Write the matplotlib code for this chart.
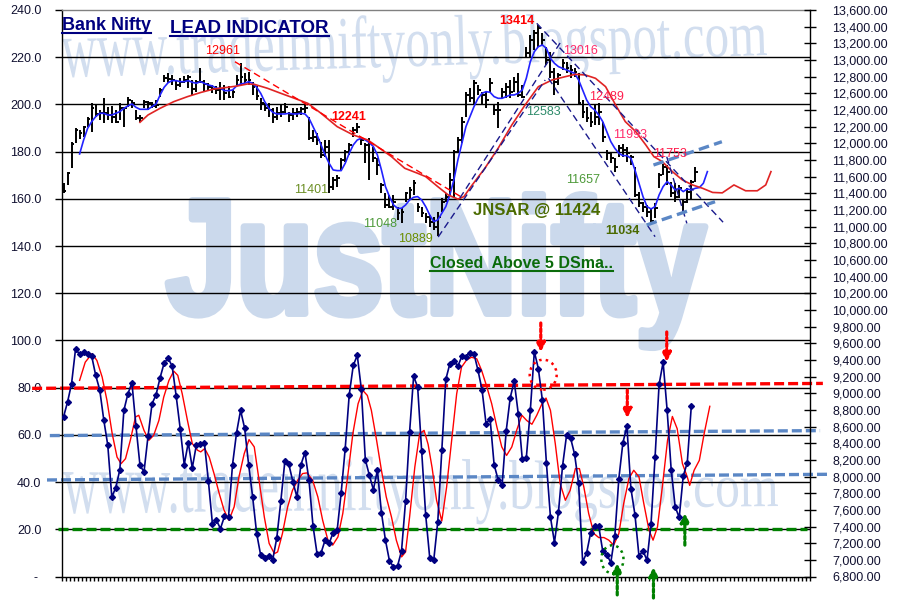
import numpy as np
import matplotlib
matplotlib.use('Agg')
import matplotlib.pyplot as plt
from matplotlib.textpath import TextPath
from matplotlib.font_manager import FontProperties
from matplotlib.patches import PathPatch, Ellipse
from matplotlib.path import Path
from matplotlib.transforms import IdentityTransform
from matplotlib.lines import Line2D

plt.rcParams['font.family'] = ['Liberation Sans', 'DejaVu Sans']

W, H = 898, 611
N_SLOTS = 186

# ---- oscillator (left axis) ----
osc = [67.6, 73.9, 81.7, 96.5, 94.1, 95.1, 94.1, 93.4, 85.2, 79.1,
       66.4, 55.6, 33.7, 37.7, 45.3, 70.4, 77.4, 82.1, 63.8, 47.1,
       44.3, 59.4, 73.2, 77.0, 84.2, 90.4, 92.5, 89.1, 76.4, 62.6,
       47.4, 56.7, 46.0, 55.6, 56.0, 56.6, 40.5, 22.4, 23.8, 20.3,
       25.5, 25.2, 47.4, 60.9, 70.4, 62.9, 47.4, 33.7, 18.2, 9.0,
       8.0, 8.7, 7.2, 16.4, 31.9, 48.8, 47.5, 40.1, 33.7, 47.4,
       52.5, 40.8, 21.4, 9.7, 10.0, 15.4, 14.0, 18.6, 19.6, 35.5,
       54.2, 77.0, 89.4, 93.7, 79.5, 49.5, 42.9, 36.8, 45.0, 27.1,
       15.4, 6.6, 4.1, 4.4, 10.9, 32.0, 61.2, 84.8, 80.3, 53.0,
       26.0, 8.0, 6.9, 23.1, 53.5, 83.5, 90.1, 91.5, 89.1, 93.4,
       93.2, 94.8, 94.4, 87.3, 79.1, 64.7, 66.9, 47.4, 41.0, 38.9,
       61.6, 75.7, 82.7, 69.0, 49.8, 50.2, 70.4, 95.3, 88.0, 74.6,
       48.1, 25.2, 14.4, 27.4, 46.7, 59.8, 58.7, 51.8, 39.4, 6.2,
       10.0, 18.6, 21.4, 21.3, 10.7, 9.3, 5.9, 17.2, 41.5, 56.6,
       63.6, 37.2, 26.2, 8.7, 10.9, 6.9, 22.4, 50.6, 81.4, 90.8,
       70.4, 45.3, 29.5, 25.0, 42.6, 48.2, 72.1]

osc_avg_x = [4, 5.4, 7.1, 8.3, 9.6, 10.8, 12.1, 13.3, 14.3, 15.4,
             16.6, 17.9, 18.7, 20, 21.2, 22.4, 23.7, 24.9, 26.2, 27.4,
             28.4, 29.5, 30.8, 32, 33.3, 34.1, 35.1, 36.2, 37.4, 38.7,
             39.9, 41.1, 42.4, 43.6, 44.9, 46.1, 47.4, 48.6, 49.9, 51.1,
             52.4, 53.2, 54.4, 55.7, 56.9, 58.2, 59.4, 60.5, 61.9, 63.2,
             64.4, 65.7, 66.9, 68.2, 69.4, 70.7, 71.9, 73.2, 74.4, 75.5,
             76.5, 77.8, 79, 80.2, 81.5, 82.7, 84, 85, 86, 87.3,
             88.5, 89.6, 90.6, 91.6, 92.7, 94, 95.2, 96.4, 97.7, 98.9,
             100.2, 101.4, 102.7, 103.9, 105.2, 106.4, 107.7, 108.9, 110.1, 111.4,
             112.6, 113.9, 115.1, 116.4, 117.6, 118.9, 119.9, 121, 122.2, 123.4,
             124.7, 125.9, 127.2, 128.2, 129.3, 130.5, 131.8, 133, 134.3, 135.5,
             136.7, 138, 139.2, 140.5, 141.7, 143, 144.2, 145.5, 146.5, 147.6,
             148.8, 150.1, 151.3, 152.5, 153.8, 155, 155.6, 156.7, 158, 159.2,
             160.6]
osc_avg_y = [83.1, 90.8, 94.4, 91.5, 84.5, 74.6, 60.5, 50.6, 47.8, 49.9,
             57.7, 67.6, 68.3, 61.9, 57.7, 59.8, 66.1, 76.0, 83.1, 87.0,
             85.2, 77.4, 66.1, 56.3, 53.5, 52.8, 54.2, 50.6, 43.6, 35.1,
             28.1, 23.8, 29.5, 42.2, 52.0, 58.0, 54.9, 40.8, 25.2, 14.0,
             9.7, 10.4, 18.2, 29.5, 36.5, 40.8, 43.6, 43.9, 40.8, 33.7,
             23.8, 15.4, 13.3, 16.8, 26.7, 43.6, 60.5, 73.2, 78.8, 76.7,
             70.4, 57.7, 45.0, 33.7, 25.2, 15.4, 8.3, 10.4, 25.2, 46.4,
             60.5, 61.9, 56.0, 46.0, 32.3, 23.5, 37.9, 57.0, 77.4, 88.7,
             91.8, 92.9, 92.2, 87.3, 80.3, 73.2, 63.3, 54.9, 51.3, 54.9,
             61.9, 68.3, 66.1, 64.5, 68.3, 73.2, 75.6, 70.4, 56.3, 39.4,
             32.3, 36.5, 45.7, 45.7, 37.9, 26.7, 18.2, 16.5, 16.5, 15.4,
             13.3, 18.2, 30.9, 41.5, 45.0, 42.2, 30.9, 19.6, 15.4, 21.0,
             37.9, 57.7, 67.8, 62.6, 47.8, 42.2, 38.6, 45.0, 49.2, 60.5,
             72.1]

# ---- Bank Nifty daily bars (right axis) ----
bar_high = [11528, 11660, 12020, 12180, 12160, 12208, 12320, 12480, 12460, 12400,
            12540, 12440, 12448, 12400, 12480, 12440, 12560, 12520, 12400, 12340,
            12520, 12508, 12500, 12520, 12660, 12820, 12840, 12820, 12760, 12780,
            12808, 12820, 12760, 12760, 12900, 12760, 12720, 12700, 12688, 12740,
            12700, 12688, 12640, 12820, 12961, 12840, 12860, 12740, 12688, 12540,
            12488, 12480, 12420, 12440, 12460, 12480, 12380, 12420, 12420, 12440,
            12480, 12320, 12160, 12120, 12020, 12040, 12040, 11600, 11620, 11820,
            11920, 12000, 12200, 12241, 12080, 12000, 12060, 11960, 11820, 11520,
            11400, 11380, 11380, 11240, 11220, 11420, 11480, 11560, 11280, 11240,
            11160, 11140, 11120, 11180, 11340, 11400, 11640, 11920, 12080, 12320,
            12620, 12660, 12760, 12700, 12620, 12620, 12780, 12460, 12500, 12660,
            12720, 12760, 12800, 12840, 12700, 13160, 13300, 13360, 13414, 13320,
            13160, 13100, 12900, 12840, 13016, 12980, 12940, 12900, 12840, 12520,
            12440, 12380, 12470, 12489, 12260, 11920, 11880, 11820, 11980, 11993,
            11960, 11860, 11720, 11420, 11300, 11260, 11220, 11280, 11640, 11753,
            11740, 11540, 11520, 11500, 11320, 11460, 11560, 11720]
bar_low = [11408, 11500, 11700, 12008, 12048, 12072, 12200, 12140, 12320, 12280,
           12240, 12280, 12248, 12240, 12280, 12200, 12440, 12420, 12280, 12260,
           12420, 12400, 12420, 12420, 12560, 12740, 12720, 12700, 12640, 12680,
           12720, 12660, 12580, 12620, 12720, 12620, 12640, 12600, 12588, 12520,
           12520, 12540, 12540, 12700, 12700, 12720, 12700, 12580, 12520, 12400,
           12388, 12320, 12240, 12280, 12320, 12360, 12260, 12280, 12320, 12340,
           12360, 12040, 12020, 11980, 11820, 11840, 11401, 11440, 11480, 11680,
           11780, 11860, 12080, 12120, 11980, 11760, 11560, 11780, 11620, 11400,
           11220, 11220, 11200, 11080, 11048, 11300, 11320, 11380, 11180, 11120,
           11040, 11000, 10960, 10889, 11180, 11300, 11380, 11340, 11900, 12000,
           12320, 12500, 12460, 12580, 12460, 12420, 12620, 12340, 12180, 12540,
           12540, 12540, 12620, 12560, 12540, 13020, 13040, 13120, 13160, 13180,
           12940, 12780, 12583, 12700, 12880, 12840, 12780, 12800, 12460, 12300,
           12260, 12200, 12220, 12220, 12020, 11800, 11760, 11657, 11840, 11840,
           11780, 11740, 11360, 11240, 11180, 11120, 11034, 11100, 11460, 11620,
           11500, 11360, 11300, 11340, 11160, 11280, 11320, 11540]
bar_close = [11432, 11648, 11992, 12160, 12128, 12192, 12292, 12420, 12352, 12360,
             12360, 12340, 12320, 12260, 12420, 12428, 12520, 12480, 12300, 12300,
             12500, 12480, 12448, 12460, 12640, 12780, 12768, 12760, 12700, 12740,
             12760, 12792, 12648, 12740, 12740, 12712, 12672, 12648, 12640, 12648,
             12600, 12560, 12620, 12760, 12800, 12760, 12760, 12672, 12568, 12480,
             12420, 12400, 12320, 12360, 12380, 12440, 12340, 12360, 12380, 12408,
             12420, 12060, 12080, 12040, 11860, 11960, 11480, 11560, 11580, 11800,
             11900, 11980, 12160, 12200, 12040, 11980, 12000, 11820, 11740, 11500,
             11260, 11240, 11300, 11160, 11180, 11400, 11440, 11520, 11240, 11160,
             11120, 11060, 11000, 11120, 11300, 11360, 11560, 11900, 12040, 12260,
             12580, 12540, 12720, 12640, 12580, 12520, 12720, 12400, 12400, 12620,
             12680, 12620, 12740, 12580, 12560, 13080, 13240, 13320, 13380, 13240,
             13000, 12860, 12740, 12820, 12960, 12900, 12880, 12860, 12480, 12380,
             12300, 12260, 12320, 12380, 12080, 11880, 11820, 11720, 11940, 11920,
             11880, 11840, 11380, 11280, 11240, 11180, 11068, 11220, 11620, 11720,
             11660, 11400, 11360, 11460, 11300, 11420, 11540, 11660]

# 5 day sma, first value at slot 4
sma5_start = 4
sma5 = [11872, 12040, 12180, 12260, 12320, 12360, 12360, 12340, 12340, 12360,
        12380, 12420, 12448, 12472, 12432, 12408, 12408, 12408, 12440, 12472,
        12580, 12672, 12728, 12752, 12752, 12740, 12740, 12752, 12732, 12720,
        12740, 12720, 12700, 12688, 12660, 12660, 12632, 12632, 12640, 12688,
        12712, 12720, 12740, 12720, 12672, 12600, 12500, 12420, 12372, 12352,
        12352, 12352, 12360, 12352, 12352, 12360, 12352, 12300, 12200, 12100,
        11980, 11860, 11760, 11680, 11672, 11672, 11760, 11880, 11980, 12040,
        12060, 12040, 12008, 11960, 11860, 11680, 11480, 11360, 11260, 11220,
        11220, 11260, 11320, 11352, 11360, 11320, 11240, 11140, 11060, 11080,
        11160, 11240, 11380, 11560, 11800, 12000, 12200, 12320, 12440, 12540,
        12600, 12620, 12612, 12560, 12540, 12540, 12560, 12580, 12580, 12600,
        12640, 12780, 12980, 13100, 13160, 13180, 13140, 13020, 12960, 12920,
        12900, 12880, 12860, 12840, 12760, 12640, 12520, 12440, 12400, 12340,
        12260, 12140, 12020, 11940, 11880, 11852, 11852, 11820, 11680, 11520,
        11360, 11240, 11212, 11240, 11380, 11480, 11540, 11500, 11440, 11460,
        11420, 11452, 11440, 11460, 11468, 11520, 11660]

# slow average (red)
slow_x = [19, 21, 24, 27.4, 30.8, 34.1, 37.4, 40.8, 43.2, 45.7,
          47.4, 50.7, 54, 57.4, 60.7, 64, 68, 72, 75.6, 78,
          81.5, 84.8, 88, 90, 93, 95.6, 98, 99.5, 101.4, 104.7,
          108, 111.4, 114.7, 118, 121.4, 124.7, 127.2, 129.7, 132.2, 134.7,
          137.2, 139.6, 142.2, 144.7, 146.7, 148.8, 151.3, 153.8, 156.3, 158.8,
          161.3, 163.7, 166.6, 169.5, 172.4, 174.5, 175.8]
slow_y = [12252, 12340, 12420, 12500, 12560, 12610, 12652, 12672, 12688, 12712,
          12708, 12660, 12600, 12540, 12480, 12360, 12200, 12100, 12040, 11960,
          11840, 11700, 11640, 11600, 11480, 11380, 11330, 11360, 11490, 11700,
          11940, 12220, 12460, 12680, 12760, 12800, 12828, 12820, 12780, 12680,
          12460, 12260, 12140, 11980, 11840, 11780, 11660, 11560, 11500, 11460,
          11410, 11405, 11500, 11430, 11430, 11500, 11660]

price_ticks = list(range(6800, 13601, 200))
osc_ticks = list(range(0, 241, 20))

# hand drawn trend lines on the price panel: (slot, price) pairs
trend_red = [(42.6, 12979), (99.4, 11340)]
trend_navy = [[(93.1, 10875), (119.7, 12760)],
              [(98.5, 11343), (123.4, 13204)],
              [(117.6, 13440), (163.9, 11053)],
              [(120.5, 12780), (147.0, 10879)],
              [(149.9, 11839), (154.9, 11039)]]
trend_steel = [[(146.6, 11739), (163.6, 12019)],
               [(144.9, 11019), (161.9, 11299)]]

# level lines on the oscillator panel
levels = [([-7.8, 188.7], [79.7, 81.8], '#ff0000'),
          ([-3.4, 188.0], [59.7, 61.8], '#5b87c5'),
          ([-4.1, 190.0], [40.9, 43.3], '#5b87c5'),
          ([-1.4, 184.8], [20.1, 20.1], '#008000')]

# signal arrows (slot, tail value, head value)
down_arrows = [(118.6, 107.4, 95.1), (140.1, 79.0, 67.1), (149.9, 103.6, 90.9)]
up_arrows = [(137.6, -7.8, 5.7), (146.6, -9.1, 4.0), (154.4, 13.3, 26.9)]

# swing labels: text, x px, y px, colour, weight
swing_labels = [('12961', 223, 51, '#ff0000', 'normal'),
                ('12241', 348.5, 117.5, '#ff0000', 'bold'),
                ('11401', 311, 190, '#6b8e23', 'normal'),
                ('11048', 380, 224, '#4e9a3a', 'normal'),
                ('10889', 415, 239, '#6b8e00', 'normal'),
                ('13414', 517, 21, '#ff0000', 'bold'),
                ('13016', 580, 51, '#ff2a6a', 'normal'),
                ('12583', 543, 112, '#2e8b6a', 'normal'),
                ('12489', 607, 97, '#ff2050', 'normal'),
                ('11993', 630, 135, '#ff2a6a', 'normal'),
                ('11753', 670, 154, '#ff1a4a', 'normal'),
                ('11657', 583, 180, '#4e9a3a', 'normal'),
                ('11034', 622, 231, '#4a6a00', 'bold')]


def wordart(ax, text, family, weight, start, end, h0, h1, ref, color, stroke=0.0):
    # text path laid along a baseline (image px), letter height going h0 -> h1
    fp = FontProperties(family=family, weight=weight)
    tp = TextPath((0, 0), text, size=100, prop=fp)
    ref_h = TextPath((0, 0), ref, size=100, prop=fp).get_extents().y1
    ext = tp.get_extents()
    v = tp.vertices
    u = (v[:, 0] - ext.x0) / ext.width
    x0, y0 = start[0], H - start[1]
    x1, y1 = end[0], H - end[1]
    length = np.hypot(x1 - x0, y1 - y0)
    d = np.array([x1 - x0, y1 - y0]) / length
    n = np.array([-d[1], d[0]])
    along = u * length
    up = v[:, 1] / ref_h * (h0 + (h1 - h0) * u)
    pts = np.column_stack([x0 + along * d[0] + up * n[0],
                           y0 + along * d[1] + up * n[1]])
    patch = PathPatch(Path(pts, tp.codes), transform=IdentityTransform(),
                      facecolor=color, edgecolor=color if stroke else 'none',
                      lw=stroke, joinstyle='round', zorder=0.1)
    ax.add_patch(patch)


fig = plt.figure(figsize=(W / 100, H / 100), dpi=100)
fig.patch.set_facecolor('white')
ax = fig.add_axes([61.5 / W, (H - 576.5) / H, (810 - 61.5) / W, (576.5 - 10) / H])
ax2 = ax.twinx()

ax.set_xlim(-0.5, N_SLOTS - 0.5)
ax.set_ylim(0, 240)
ax2.set_ylim(6800, 13600)

# watermarks
wordart(ax, 'JustNifty', 'Liberation Sans', 'bold', (168, 313.5), (705, 313.5), 113, 113, 'N',
        '#cbd9ec', stroke=5.0)
wordart(ax, 'www.tradeinniftyonly.blogspot.com', 'Liberation Serif', 'normal',
        (62, 77), (767, 55), 38, 29, 'x', '#d2deef')
wordart(ax, 'www.tradeinniftyonly.blogspot.com', 'Liberation Serif', 'normal',
        (63, 513), (778, 506), 41, 27, 'x', '#d2deef')

ax.hlines(osc_ticks[1:-1], -0.5, N_SLOTS - 0.5, colors='black', lw=1, zorder=1)

# oscillator panel
for xs, ys, col in levels:
    ax.plot(xs, ys, color=col, lw=2.4, ls=(0, (3.0, 1.2)), clip_on=False, zorder=2)
ax.plot(osc_avg_x, osc_avg_y, color='#ff0000', lw=1.0, zorder=3)
ax.plot(range(len(osc)), osc, color='#000080', lw=1.2, marker='D', ms=3.0, zorder=4)

for x, y0, y1 in down_arrows:
    ax.annotate('', xy=(x, y1), xytext=(x, y0), annotation_clip=False,
                arrowprops=dict(arrowstyle='-|>', color='#ff0000', lw=2.3, ls=(0, (1, 0.8)),
                                mutation_scale=13, shrinkA=0, shrinkB=0))
for x, y0, y1 in up_arrows:
    ax.annotate('', xy=(x, y1), xytext=(x, y0), annotation_clip=False,
                arrowprops=dict(arrowstyle='-|>', color='#008000', lw=2.3, ls=(0, (1, 0.8)),
                                mutation_scale=13, shrinkA=0, shrinkB=0))
ax.add_patch(Ellipse((119.2, 85.5), 6.7, 12.7, fill=False, ec='#ff0000', lw=1.8, ls=':', zorder=5))
ax.add_patch(Ellipse((136.4, 7.3), 5.5, 11.9, fill=False, ec='#008000', lw=1.8, ls=':',
                     zorder=5, clip_on=False))

# price panel
slots = np.arange(len(bar_close))
ax2.vlines(slots, bar_low, bar_high, colors='black', lw=1.4, zorder=3)
ax2.hlines(bar_close, slots, slots + 0.7, colors='black', lw=1.4, zorder=3)
ax2.plot(np.arange(len(sma5)) + sma5_start, sma5, color='#2222ff', lw=1.2, zorder=4)
ax2.plot(slow_x, slow_y, color='#e02424', lw=1.2, zorder=4)

ax2.plot(*zip(*trend_red), color='#ff0000', lw=1.0, ls=(0, (5, 3)), zorder=4)
for seg in trend_navy:
    ax2.plot(*zip(*seg), color='#1a1a8c', lw=1.0, ls=(0, (5, 3)), zorder=4)
for seg in trend_steel:
    ax2.plot(*zip(*seg), color='#5b87c5', lw=2.4, ls=(0, (3.2, 1.6)), zorder=4)

# axes styling
ax.set_yticks(osc_ticks)
ax.set_yticklabels(['- '] + [f'{v:.1f}' for v in osc_ticks[1:]])
ax.set_xticks(np.arange(-0.5, N_SLOTS, 1.0))
ax.set_xticklabels([])
ax.tick_params(axis='y', direction='out', length=5, width=1, labelsize=9, pad=9.5,
               labelcolor='#101030')
ax.tick_params(axis='x', direction='out', length=3, width=1)
ax2.set_yticks(price_ticks)
ax2.set_yticklabels([f'{v:,.2f}' for v in price_ticks])
ax2.tick_params(axis='y', direction='inout', length=8, width=1, labelsize=9, pad=12,
                labelcolor='#101030')

for a in (ax, ax2):
    for s in a.spines.values():
        s.set_linewidth(1)
ax.spines['right'].set_visible(False)
ax.spines['top'].set_color('#808080')
for s in ('left', 'top', 'bottom'):
    ax2.spines[s].set_visible(False)

# text
def label(x, y, s, color, size=9, weight='normal', ha='center', va='center'):
    return fig.text(x / W, 1 - y / H, s, color=color, fontsize=size,
                    fontweight=weight, ha=ha, va=va, zorder=6)


for s, x, y, col, wt in swing_labels:
    label(x, y, s, col, size=9, weight=wt)

label(536.5, 210.5, 'JNSAR @ 11424', '#4b6b00', size=12, weight='bold')
underlined = [label(62, 29.5, 'Bank Nifty', '#000080', size=13, weight='bold', ha='left', va='baseline'),
              label(170, 33, 'LEAD INDICATOR', '#000080', size=13.5, weight='bold', ha='left', va='baseline'),
              label(430, 268, 'Closed  Above 5 DSma..', '#0b6b0b', size=11.5, weight='bold',
                    ha='left', va='baseline')]
under_y = [32.5, 35.5, 271]

fig.canvas.draw()
renderer = fig.canvas.get_renderer()
for t, uy in zip(underlined, under_y):
    bb = t.get_window_extent(renderer)
    fig.add_artist(Line2D([bb.x0 / W, bb.x1 / W], [1 - uy / H] * 2,
                          transform=fig.transFigure, color=t.get_color(), lw=1.5))

fig.savefig('out.png', dpi=100)
